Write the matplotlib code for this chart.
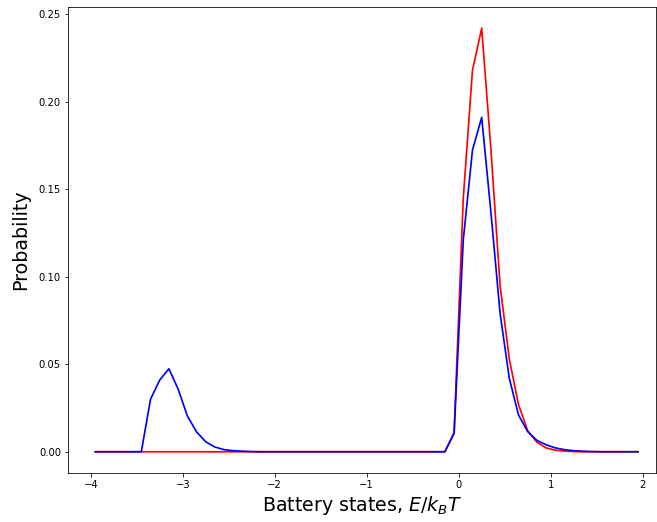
import numpy as np
import matplotlib
matplotlib.use("Agg")
import matplotlib.pyplot as plt

# battery energy grid, E/kBT, step 0.1
energy = np.round(np.arange(-3.95, 2.0, 0.1), 2)

# probabilities, keyed by energy; missing energies are 0
red_points = {
    -0.05: 0.011, 0.05: 0.145, 0.15: 0.218, 0.25: 0.242, 0.35: 0.173,
    0.45: 0.095, 0.55: 0.053, 0.65: 0.027, 0.75: 0.012, 0.85: 0.0055,
    0.95: 0.0022, 1.05: 0.0009, 1.15: 0.0004, 1.25: 0.0001,
}
blue_points = {
    -3.35: 0.030, -3.25: 0.041, -3.15: 0.0474, -3.05: 0.0358, -2.95: 0.0205,
    -2.85: 0.0114, -2.75: 0.0057, -2.65: 0.0027, -2.55: 0.0012, -2.45: 0.0006,
    -2.35: 0.0003, -2.25: 0.0001,
    -0.05: 0.0105, 0.05: 0.121, 0.15: 0.1724, 0.25: 0.191, 0.35: 0.137,
    0.45: 0.079, 0.55: 0.042, 0.65: 0.021, 0.75: 0.0115, 0.85: 0.0065,
    0.95: 0.004, 1.05: 0.0022, 1.15: 0.0012, 1.25: 0.0006, 1.35: 0.0003,
    1.45: 0.0001,
}

p_red = np.array([red_points.get(e, 0.0) for e in energy])
p_blue = np.array([blue_points.get(e, 0.0) for e in energy])

fig = plt.figure(figsize=(657 / 72, 522 / 72), dpi=72)
ax = fig.add_axes([0.1035, 0.094, 0.895, 0.8926])

ax.plot(energy, p_red, color='red', lw=1.7)
ax.plot(energy, p_blue, color='blue', lw=1.7)

# right side of the original looks cropped
ax.set_xlim(-4.247, 2.145)

ax.set_xlabel(r'Battery states, $E/k_BT$', fontsize=19)
ax.set_ylabel('Probability', fontsize=19, labelpad=9)

fig.savefig('out.png', dpi=72)
